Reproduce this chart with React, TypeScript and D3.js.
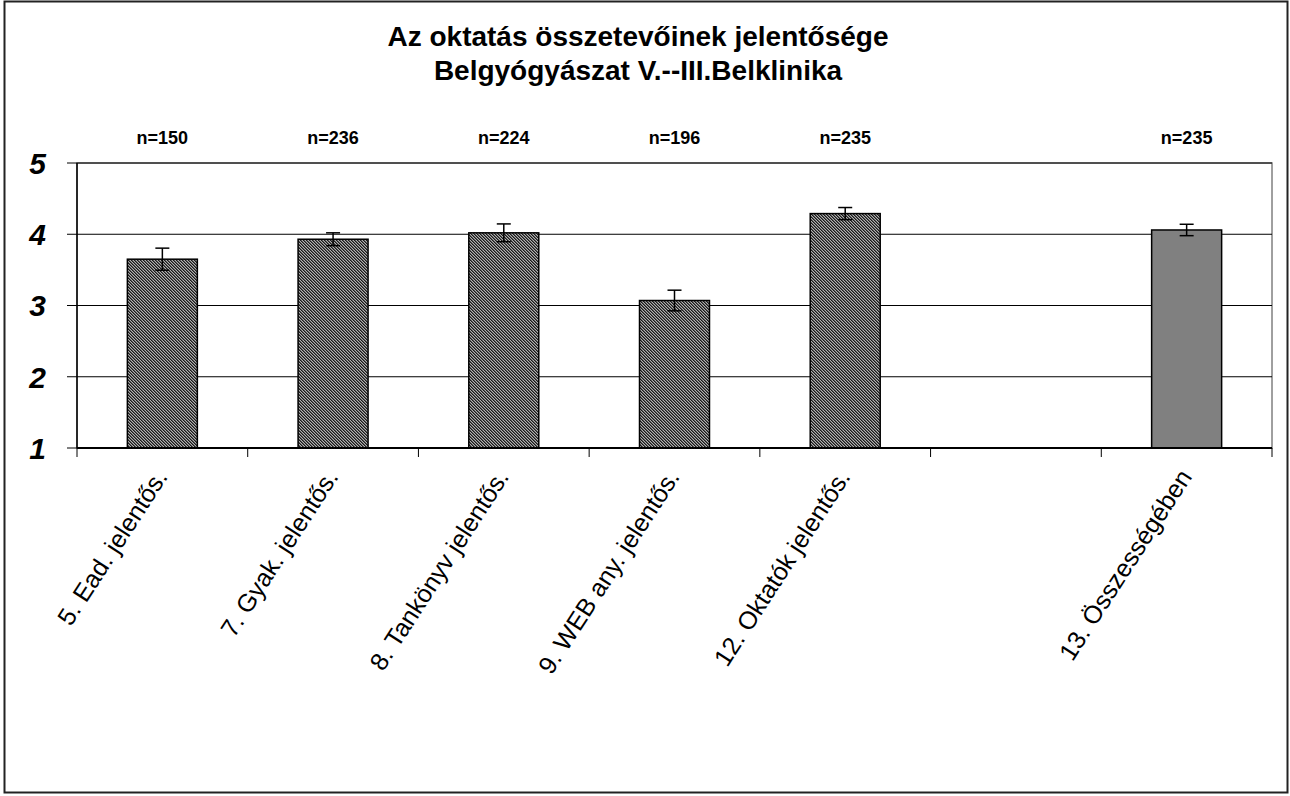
import React from "react";
import * as d3 from "d3";

const categories = [
  "5. Ead. jelentős.",
  "7. Gyak. jelentős.",
  "8. Tankönyv jelentős.",
  "9. WEB any. jelentős.",
  "12. Oktatók jelentős.",
  "",
  "13. Összességében",
];
const means: (number | null)[] = [3.65, 3.93, 4.02, 3.07, 4.29, null, 4.06];
const errors: (number | null)[] = [0.155, 0.09, 0.125, 0.145, 0.085, null, 0.08];
const counts: (number | null)[] = [150, 236, 224, 196, 235, null, 235];
const yTicks = [1, 2, 3, 4, 5];
const titleLines = ["Az oktatás összetevőinek jelentősége", "Belgyógyászat V.--III.Belklinika"];

const W = 1290;
const H = 796;
const left = 77;
const right = 1272;
const top = 163;
const bottom = 448;

export default function App() {
  const keys = categories.map((c, i) => `${i}`);
  const x = d3.scaleBand<string>().domain(keys).range([left, right]).padding(0);
  const y = d3.scaleLinear().domain([1, 5]).range([bottom, top]);
  const bw = x.bandwidth() * 0.41;
  const font = "Arial, 'Liberation Sans', sans-serif";
  const boundaries = keys.map((k) => x(k)!).concat([right]);

  return (
    <svg width={W} height={H} style={{ position: "absolute", left: 0, top: 0, background: "#fff" }} fontFamily={font}>
      <defs>
        <pattern id="hatch" patternUnits="userSpaceOnUse" width={3} height={3}>
          <rect width={3} height={3} fill="#b0b0b0" />
          <rect x={0} y={0} width={1} height={1} fill="#1a1a1a" />
          <rect x={1} y={1} width={1} height={1} fill="#1a1a1a" />
          <rect x={2} y={2} width={1} height={1} fill="#1a1a1a" />
          <rect x={1} y={0} width={1} height={1} fill="#5a5a5a" />
          <rect x={2} y={1} width={1} height={1} fill="#5a5a5a" />
          <rect x={0} y={2} width={1} height={1} fill="#5a5a5a" />
        </pattern>
      </defs>
      <rect x={0} y={0} width={W} height={H} fill="#fff" />
      <rect x={4.5} y={1.5} width={1283} height={791} fill="none" stroke="#222" strokeWidth={2} />

      {titleLines.map((t, i) => (
        <text key={i} x={638} y={46 + i * 34} textAnchor="middle" fontSize={28} fontWeight="bold" fill="#000">
          {t}
        </text>
      ))}

      {/* plot border */}
      <rect x={left} y={top} width={right - left} height={bottom - top} fill="none" stroke="#808080" strokeWidth={1.5} />

      {/* gridlines */}
      {yTicks.filter((t) => t > 1).map((t) => (
        <line key={t} x1={left} x2={right} y1={y(t)} y2={y(t)} stroke="#000" strokeWidth={1} />
      ))}

      {/* y ticks and labels */}
      {yTicks.map((t) => (
        <g key={t}>
          <line x1={left - 10} x2={left} y1={y(t)} y2={y(t)} stroke="#000" strokeWidth={1} />
          <text x={46} y={y(t)} dy="0.36em" textAnchor="end" fontSize={30} fontWeight="bold" fontStyle="italic" fill="#000">
            {t}
          </text>
        </g>
      ))}

      {/* bars */}
      {keys.map((k, i) => {
        const v = means[i];
        if (v == null) return null;
        const cx = x(k)! + x.bandwidth() / 2;
        const isTotal = i === keys.length - 1;
        return (
          <rect
            key={k}
            x={cx - bw / 2}
            y={y(v)}
            width={bw}
            height={y(1) - y(v)}
            fill={isTotal ? "#808080" : "url(#hatch)"}
            stroke="#000"
            strokeWidth={1.5}
          />
        );
      })}

      {/* error bars */}
      {keys.map((k, i) => {
        const v = means[i];
        const e = errors[i];
        if (v == null || e == null) return null;
        const cx = x(k)! + x.bandwidth() / 2;
        return (
          <g key={k} stroke="#000" strokeWidth={1.5}>
            <line x1={cx} x2={cx} y1={y(v + e)} y2={y(v - e)} />
            <line x1={cx - 7} x2={cx + 7} y1={y(v + e)} y2={y(v + e)} />
            <line x1={cx - 7} x2={cx + 7} y1={y(v - e)} y2={y(v - e)} />
          </g>
        );
      })}

      {/* axes */}
      <line x1={left} x2={left} y1={top} y2={bottom} stroke="#000" strokeWidth={1.5} />
      <line x1={left} x2={right} y1={bottom} y2={bottom} stroke="#000" strokeWidth={2} />
      {boundaries.map((b, i) => (
        <line key={i} x1={b} x2={b} y1={bottom} y2={bottom + 9} stroke="#000" strokeWidth={1} />
      ))}

      {/* n labels */}
      {keys.map((k, i) => {
        const n = counts[i];
        if (n == null) return null;
        const cx = x(k)! + x.bandwidth() / 2;
        return (
          <text key={k} x={cx} y={144} textAnchor="middle" fontSize={18} fontWeight="bold" fill="#000">
            {`n=${n}`}
          </text>
        );
      })}

      {/* category labels */}
      {keys.map((k, i) => {
        const c = categories[i];
        if (!c) return null;
        const cx = x(k)! + x.bandwidth() / 2;
        return (
          <text
            key={k}
            transform={`translate(${cx - 9},${467}) rotate(-57)`}
            dy="0.72em"
            textAnchor="end"
            fontSize={25}
            fill="#000"
          >
            {c}
          </text>
        );
      })}
    </svg>
  );
}
